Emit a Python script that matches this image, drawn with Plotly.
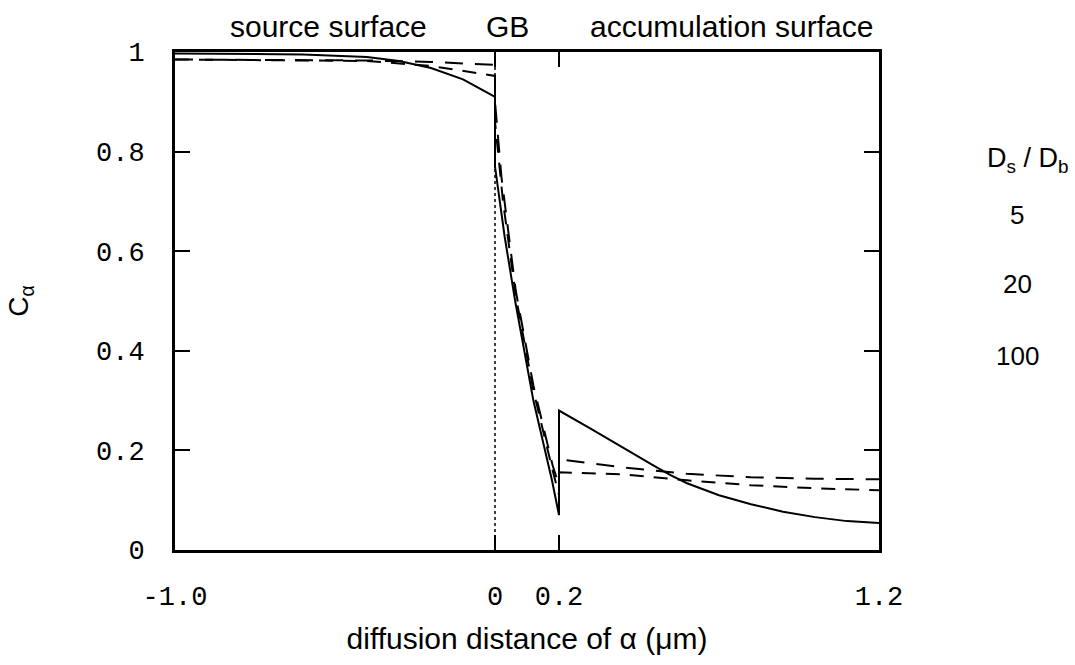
import plotly.graph_objects as go

# ---- data ----
# D_s/D_b = 5 (solid)
x5 = [-1.0, -0.6, -0.4, -0.3, -0.2, -0.1, 0.0,
      0.0, 0.03, 0.063, 0.12, 0.178, 0.2,
      0.2, 0.3, 0.4, 0.5, 0.55, 0.6, 0.7, 0.8, 0.9, 1.0, 1.1, 1.2]
y5 = [0.997, 0.995, 0.99, 0.982, 0.968, 0.945, 0.91,
      0.77, 0.63, 0.5, 0.3, 0.14, 0.07,
      0.28, 0.243, 0.205, 0.168, 0.15, 0.134, 0.11, 0.092, 0.077, 0.066, 0.058, 0.054]
# D_s/D_b = 20 (dashed)
x20 = [-1.0, -0.6, -0.4, -0.2, -0.1, 0.0,
       0.0, 0.02, 0.065, 0.12, 0.18, 0.2,
       0.2, 0.4, 0.6, 0.8, 1.0, 1.2]
y20 = [0.985, 0.984, 0.983, 0.98, 0.977, 0.974,
       0.9, 0.75, 0.52, 0.33, 0.17, 0.13,
       0.182, 0.166, 0.153, 0.146, 0.143, 0.142]
# D_s/D_b = 100 (dashed)
x100 = [-1.0, -0.6, -0.4, -0.2, -0.1, 0.0,
        0.0, 0.025, 0.065, 0.12, 0.18, 0.2,
        0.2, 0.4, 0.6, 0.8, 1.0, 1.2]
y100 = [0.985, 0.984, 0.982, 0.972, 0.962, 0.952,
        0.86, 0.7, 0.51, 0.32, 0.16, 0.11,
        0.156, 0.152, 0.14, 0.13, 0.124, 0.12]
# grain boundary position
gb_x = [0.0, 0.0]
gb_y = [0.0, 1.0]

x_ticks = [-1.0, 0.0, 0.2, 1.2]
x_ticktext = ["-1.0", "0", "0.2", "1.2"]
y_ticks = [0, 0.2, 0.4, 0.6, 0.8, 1.0]
y_ticktext = ["0", "0.2", "0.4", "0.6", "0.8", "1"]
legend_title = "D<sub>s</sub> / D<sub>b</sub>"
legend_labels = ["5", "20", "100"]

fig = go.Figure()
fig.add_trace(go.Scatter(x=gb_x, y=gb_y, mode="lines",
                         line=dict(color="black", width=1.5, dash="dot"),
                         showlegend=False, hoverinfo="skip"))
fig.add_trace(go.Scatter(x=x100, y=y100, mode="lines", name="100",
                         line=dict(color="black", width=2, dash="14px,10px"),
                         showlegend=False))
fig.add_trace(go.Scatter(x=x20, y=y20, mode="lines", name="20",
                         line=dict(color="black", width=2, dash="18px,12px"),
                         showlegend=False))
fig.add_trace(go.Scatter(x=x5, y=y5, mode="lines", name="5",
                         line=dict(color="black", width=2),
                         showlegend=False))

mono = dict(family="Liberation Mono, Courier New, monospace", size=27, color="black")
sans = "Liberation Sans, Arial, sans-serif"

fig.update_layout(
    width=1075, height=665,
    margin=dict(l=175, r=196, t=52, b=115),
    paper_bgcolor="white", plot_bgcolor="white",
    font=dict(family=sans, color="black"),
    xaxis=dict(range=[-1.0, 1.2], tickvals=x_ticks, ticktext=x_ticktext,
               ticks="inside", ticklen=15, tickwidth=2, tickcolor="black",
               showline=True, linewidth=3, linecolor="black", mirror="allticks",
               showgrid=False, zeroline=False, tickfont=mono,
               ticklabelstandoff=20,
               title=dict(text="diffusion distance of α (μm)",
                          font=dict(family=sans, size=30), standoff=16)),
    yaxis=dict(range=[0, 1.0], tickvals=y_ticks, ticktext=y_ticktext,
               ticks="inside", ticklen=15, tickwidth=2, tickcolor="black",
               showline=True, linewidth=3, linecolor="black", mirror="allticks",
               showgrid=False, zeroline=False, tickfont=mono,
               ticklabelstandoff=22,
               title=dict(text="C<sub>α</sub>", font=dict(family=sans, size=28),
                          standoff=60)),
)

# top region labels
for txt, xv in [("source surface", -0.52), ("GB", 0.04), ("accumulation surface", 0.74)]:
    fig.add_annotation(x=xv, y=1.0, xref="x", yref="paper", yanchor="bottom",
                       xanchor="center", yshift=7, text=txt, showarrow=False,
                       font=dict(family=sans, size=30, color="black"))

# legend-like labels on the right
fig.add_annotation(x=1.0, xref="paper", xanchor="center", xshift=148,
                   y=0.784, yref="paper", yanchor="middle",
                   text=legend_title, showarrow=False,
                   font=dict(family=sans, size=27, color="black"))
for lab, yv in zip(legend_labels, [0.673, 0.535, 0.39]):
    fig.add_annotation(x=1.0, xref="paper", xanchor="center", xshift=138,
                       y=yv, yref="paper", yanchor="middle",
                       text=lab, showarrow=False,
                       font=dict(family=sans, size=26, color="black"))

fig.write_html("out.html")
